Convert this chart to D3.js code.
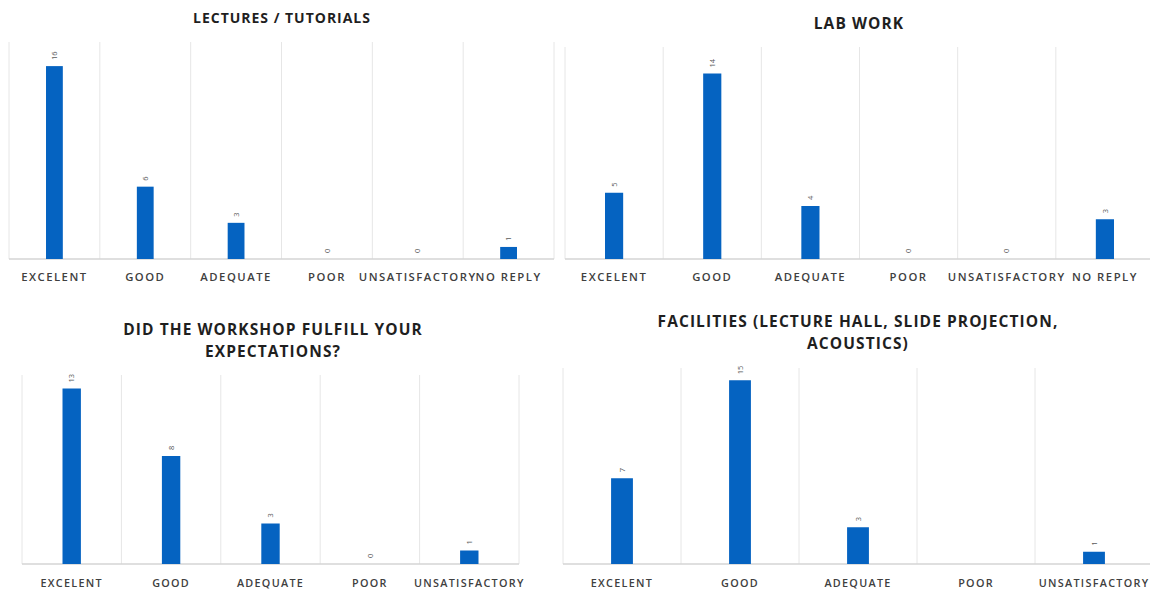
<!DOCTYPE html>
<html>
<head>
<meta charset="utf-8">
<script src="https://cdn.jsdelivr.net/npm/d3@7"></script>
<style>
  html, body { margin: 0; padding: 0; background: #fff; }
  svg { display: block; }
  .title { font-family: "Open Sans", sans-serif; font-weight: 700; fill: #1f1f1f; letter-spacing: 0.07em; }
  .cat text { font-family: "Open Sans", sans-serif; font-weight: 600; fill: #404040; }
  .val { font-family: "Open Sans", sans-serif; font-size: 7.5px; fill: #595959; }
</style>
</head>
<body>
<svg id="chart" width="1150" height="594"></svg>
<script>
// Survey categories
const catsLong = ["EXCELENT", "GOOD", "ADEQUATE", "POOR", "UNSATISFACTORY", "NO REPLY"];
const catsShort = ["EXCELENT", "GOOD", "ADEQUATE", "POOR", "UNSATISFACTORY"];

// Response counts per question
const lecturesValues = [16, 6, 3, 0, 0, 1];
const labWorkValues = [5, 14, 4, 0, 0, 3];
const expectationsValues = [13, 8, 3, 0, 1];
const facilitiesValues = [7, 15, 3, null, 1];

// Titles (one entry per line)
const lecturesTitle = ["LECTURES / TUTORIALS"];
const labWorkTitle = ["LAB WORK"];
const expectationsTitle = ["DID THE WORKSHOP FULFILL YOUR", "EXPECTATIONS?"];
const facilitiesTitle = ["FACILITIES (LECTURE HALL, SLIDE PROJECTION,", "ACOUSTICS)"];

// Value-axis maxima
const lecturesMax = 18, labWorkMax = 16, expectationsMax = 14, facilitiesMax = 16;

const svg = d3.select("#chart");

const panels = [
  { cats: catsLong, values: lecturesValues, title: lecturesTitle, yMax: lecturesMax,
    x0: 9, x1: 554, top: 42, base: 259, titleY: 18, titleX: 282, titleSize: 14,
    labelY: 277, labelSize: 11.3, labelSpacing: 1.5 },
  { cats: catsLong, values: labWorkValues, title: labWorkTitle, yMax: labWorkMax,
    x0: 565, x1: 1154, top: 47, base: 259, titleY: 24, titleX: 859, titleSize: 15.5,
    labelY: 277, labelSize: 11.3, labelSpacing: 1.5 },
  { cats: catsShort, values: expectationsValues, title: expectationsTitle, yMax: expectationsMax,
    x0: 22, x1: 519, top: 375, base: 564, titleY: 330, titleX: 273, titleSize: 15.5,
    labelY: 583, labelSize: 10.8, labelSpacing: 1.3 },
  { cats: catsShort, values: facilitiesValues, title: facilitiesTitle, yMax: facilitiesMax,
    x0: 563, x1: 1153, top: 368, base: 564, titleY: 322, titleX: 858, titleSize: 15.5,
    labelY: 583, labelSize: 10.8, labelSpacing: 1.3 }
];

panels.forEach(p => {
  const g = svg.append("g");
  const x = d3.scaleBand().domain(p.cats).range([p.x0, p.x1]).padding(0);
  const y = d3.scaleLinear().domain([0, p.yMax]).range([p.base, p.top]);
  const bw = x.bandwidth() * 0.185;

  // vertical category separators
  const edges = p.cats.map(c => x(c)).concat([x(p.cats[p.cats.length - 1]) + x.bandwidth()]);
  g.selectAll("line.grid").data(edges).join("line")
    .attr("class", "grid")
    .attr("x1", d => d).attr("x2", d => d)
    .attr("y1", p.top).attr("y2", p.base)
    .attr("stroke", "#e6e6e6").attr("stroke-width", 1);

  // baseline
  g.append("line")
    .attr("x1", p.x0).attr("x2", p.x1)
    .attr("y1", p.base).attr("y2", p.base)
    .attr("stroke", "#d4d4d4").attr("stroke-width", 1.5);

  const data = p.cats.map((c, i) => ({ cat: c, v: p.values[i] }));

  // bars
  g.selectAll("rect.bar").data(data.filter(d => d.v !== null && d.v > 0)).join("rect")
    .attr("class", "bar")
    .attr("x", d => x(d.cat) + x.bandwidth() / 2 - bw / 2)
    .attr("width", bw)
    .attr("y", d => y(d.v))
    .attr("height", d => y(0) - y(d.v))
    .attr("fill", "#0563c1");

  // rotated value labels
  g.selectAll("text.val").data(data.filter(d => d.v !== null)).join("text")
    .attr("class", "val")
    .attr("transform", d => `translate(${x(d.cat) + x.bandwidth() / 2},${y(d.v) - 6}) rotate(-90)`)
    .attr("text-anchor", "start")
    .attr("dy", "0.35em")
    .text(d => d.v);

  // category labels
  const axis = d3.axisBottom(x).tickSize(0).tickPadding(0);
  const ag = g.append("g").attr("class", "cat")
    .attr("transform", `translate(0,${p.labelY})`)
    .call(axis);
  ag.select(".domain").remove();
  ag.selectAll("text")
    .attr("dy", "0.35em").attr("y", 0)
    .style("font-size", p.labelSize + "px")
    .style("letter-spacing", p.labelSpacing + "px");

  // title
  const t = g.append("text").attr("class", "title")
    .attr("text-anchor", "middle")
    .style("font-size", p.titleSize + "px")
    .attr("x", p.titleX).attr("y", p.titleY);
  p.title.forEach((line, i) => {
    t.append("tspan").attr("x", p.titleX).attr("dy", i === 0 ? "0.35em" : "22px").text(line);
  });
});
</script>
</body>
</html>
